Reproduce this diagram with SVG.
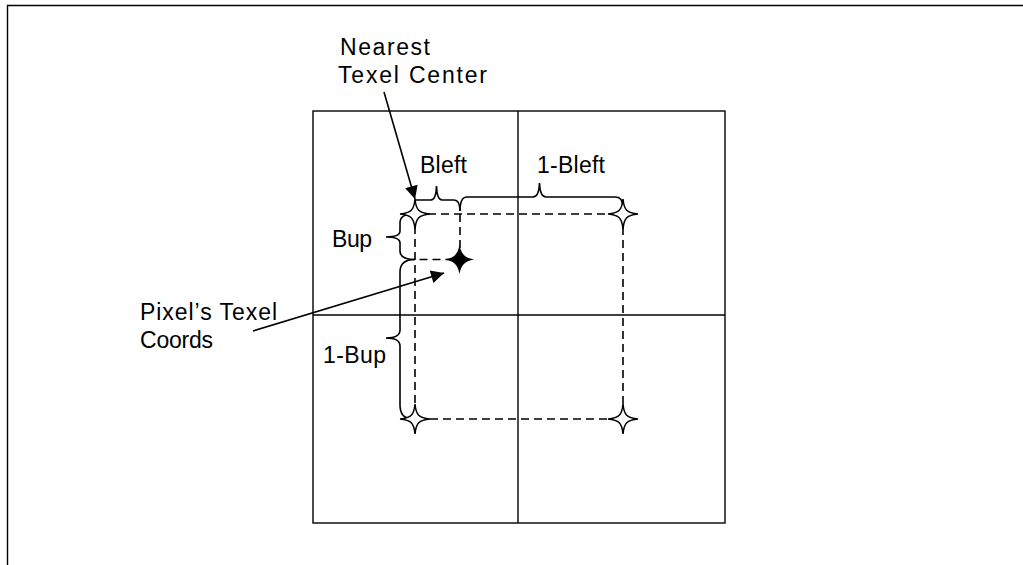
<svg xmlns="http://www.w3.org/2000/svg" width="1023" height="565" viewBox="0 0 1023 565">
<style>
text{font-family:"Liberation Sans",Arial,sans-serif;font-size:23px;fill:#000}
.ln{fill:none;stroke:#000;stroke-width:1.4}
.ds{fill:none;stroke:#000;stroke-width:1.6;stroke-dasharray:8,5}
.br{fill:none;stroke:#000;stroke-width:1.6}
.st{fill:#fff;stroke:#000;stroke-width:1.5}
.sf{fill:#000;stroke:none}
</style>
<defs>
<path id="star" d="M0,-15 C1,-4 4,-1 15,0 C4,1 1,4 0,15 C-1,4 -4,1 -15,0 C-4,-1 -1,-4 0,-15Z"/>
<path id="starf" d="M0,-14.5 C2,-5 5,-2 14.5,0 C5,2 2,5 0,14.5 C-2,5 -5,2 -14.5,0 C-5,-2 -2,-5 0,-14.5Z"/>
<marker id="ah" viewBox="0 0 10 10" refX="10" refY="5" markerWidth="17" markerHeight="13" markerUnits="userSpaceOnUse" orient="auto">
<path d="M0,0 L10,5 L0,10Z" fill="#000"/>
</marker>
</defs>
<path class="ln" d="M7.5,565 V5.5 H1023" stroke-width="1.8"/>
<g id="grid">
<rect class="ln" x="313" y="111" width="412" height="412"/>
<line class="ln" x1="518" y1="111" x2="518" y2="523"/>
<line class="ln" x1="313" y1="315" x2="725" y2="315"/>
</g>
<g id="connectors">
<rect class="ds" x="415" y="214" width="208" height="205"/>
<path class="ds" d="M460,214 V259.5 H415"/>
<path class="br" d="M415,200 H431 Q436,200 436.5,186 Q437,200 442,200 H454 Q460,200 460,211"/>
<path class="br" d="M460,211 Q460,197 467,197 H533 Q539,197 539.5,183 Q540,197 546,197 H615 Q622.7,197 622.7,206"/>
<path class="br" d="M413,214 Q400,214 400,223 V231 Q400,237 386,237 Q400,237 400,243 V251 Q400,259.5 415,259.5"/>
<path class="br" d="M415,259.5 Q400,259.5 400,272 V330 Q400,338 386,338 Q400,338 400,346 V405 Q400,419 413,419"/>
<line class="br" x1="384" y1="92" x2="415" y2="199" marker-end="url(#ah)"/>
<line class="br" x1="253" y1="331" x2="444" y2="273" marker-end="url(#ah)"/>
</g>
<g id="texel-stars">
<use href="#star" class="st" x="415" y="214"/>
<use href="#star" class="st" x="623" y="214"/>
<use href="#star" class="st" x="415" y="419"/>
<use href="#star" class="st" x="623" y="419"/>
</g>
<g id="pixel-star">
<use href="#starf" class="sf" x="459.5" y="259.5"/>
</g>
<g id="label-nearest">
<text x="340" y="55" textLength="90" lengthAdjust="spacing">Nearest</text>
<text x="338" y="83" textLength="149" lengthAdjust="spacing">Texel Center</text>
</g>
<g id="label-bleft"><text x="420" y="173" textLength="47" lengthAdjust="spacing">Bleft</text></g>
<g id="label-1bleft"><text x="537" y="173" textLength="68" lengthAdjust="spacing">1-Bleft</text></g>
<g id="label-bup"><text x="332" y="247" textLength="40" lengthAdjust="spacing">Bup</text></g>
<g id="label-1bup"><text x="323" y="363" textLength="63" lengthAdjust="spacing">1-Bup</text></g>
<g id="label-pixel">
<text x="140" y="320" textLength="137" lengthAdjust="spacing">Pixel’s Texel</text>
<text x="140" y="348" textLength="73" lengthAdjust="spacing">Coords</text>
</g>
</svg>
